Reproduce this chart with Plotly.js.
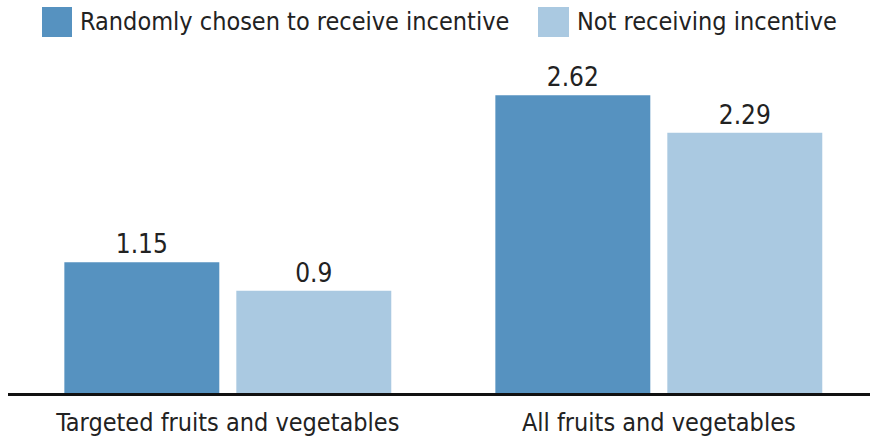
<!DOCTYPE html>
<html><head><meta charset="utf-8">
<script src="https://cdn.plot.ly/plotly-3.0.1.min.js"></script>
<style>html,body{margin:0;padding:0;background:#fff}#chart{width:870px;height:442px}</style>
</head><body><div id="chart"></div>
<script>
const categories = ["Targeted fruits and vegetables", "All fruits and vegetables"];
const seriesNames = ["Randomly chosen to receive incentive", "Not receiving incentive"];
const incentiveValues = [1.15, 2.62];
const noIncentiveValues = [0.9, 2.29];
const incentiveLabels = ["1.15", "2.62"];
const noIncentiveLabels = ["0.9", "2.29"];
const seriesColors = ["#5692c0", "#aac9e1"];

const FONT = "'DejaVu Sans Condensed', 'DejaVu Sans', sans-serif";
const W = 870, H = 442, ML = 8, MR = 0, MT = 60, MB = 49;
const PW = W - ML - MR, PH = H - MT - MB;
const px2x = p => (p - ML) / PW;
const py2y = p => (H - MB - p) / PH;

const data = [
  {type:"bar", name:seriesNames[0], x:categories, y:incentiveValues, text:incentiveLabels,
   textposition:"outside", cliponaxis:false, marker:{color:seriesColors[0]},
   textfont:{family:FONT, size:26, color:"#222"}, hoverinfo:"none"},
  {type:"bar", name:seriesNames[1], x:categories, y:noIncentiveValues, text:noIncentiveLabels,
   textposition:"outside", cliponaxis:false, marker:{color:seriesColors[1]},
   textfont:{family:FONT, size:26, color:"#222"}, hoverinfo:"none"}
];

// legend drawn as shapes + text annotations
const legendBoxes = [[42, 72], [538, 569]];
const shapes = legendBoxes.map((b, i) => ({
  type:"rect", xref:"paper", yref:"paper",
  x0:px2x(b[0]), x1:px2x(b[1]), y0:py2y(37), y1:py2y(7),
  fillcolor:seriesColors[i], line:{width:0}
}));
const annotations = legendBoxes.map((b, i) => ({
  xref:"paper", yref:"paper", x:px2x(b[1] + 6), y:py2y(22),
  xanchor:"left", yanchor:"middle", showarrow:false, text:seriesNames[i],
  font:{family:FONT, size:25, color:"#222"}
}));

const layout = {
  width:W, height:H,
  margin:{l:ML, r:MR, t:MT, b:MB},
  paper_bgcolor:"#fff", plot_bgcolor:"#fff",
  font:{family:FONT, size:24, color:"#222"},
  barmode:"group", bargap:0.202, bargroupgap:0.099,
  showlegend:false,
  shapes:shapes, annotations:annotations,
  xaxis:{range:[-0.51, 1.49], showline:true, linecolor:"#111", linewidth:3,
         ticks:"", showgrid:false, zeroline:false, fixedrange:true, ticklabelstandoff:5,
         tickfont:{family:FONT, size:25, color:"#222"}},
  yaxis:{range:[0, 2.929], visible:false, showgrid:false, zeroline:false, fixedrange:true}
};
Plotly.newPlot("chart", data, layout, {staticPlot:true, displayModeBar:false});
</script></body></html>
